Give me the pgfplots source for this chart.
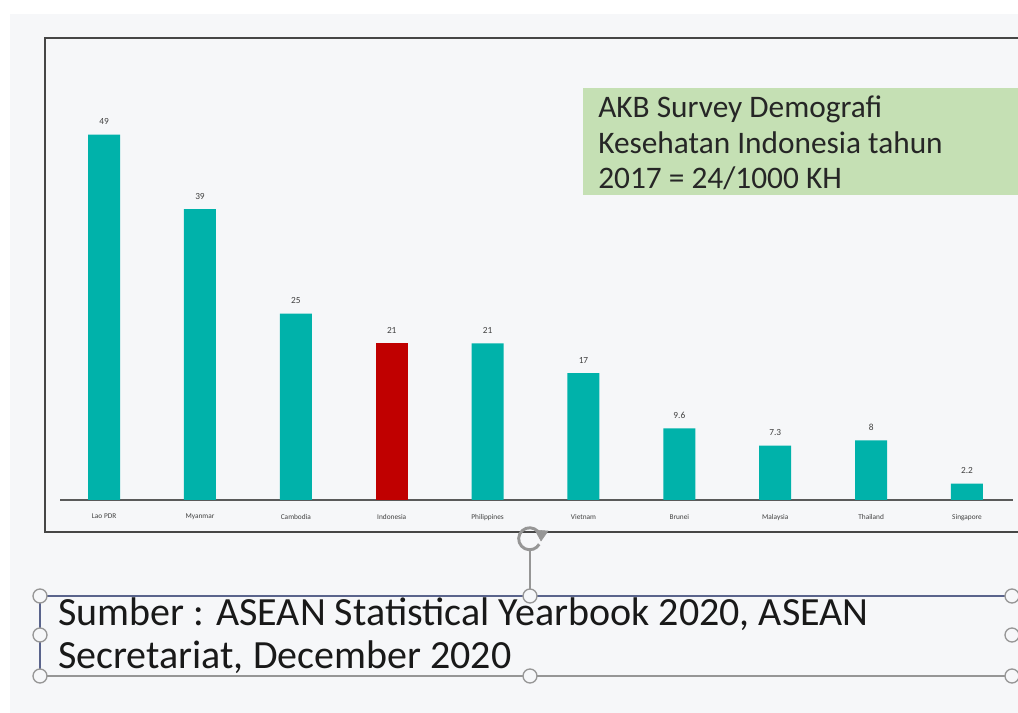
\documentclass[border=0pt]{standalone}
\usepackage{pgfplots}
\pgfplotsset{compat=1.18}
\usepackage{fontspec}
\setmainfont{Carlito}
\definecolor{bggray}{RGB}{246,247,249}
\definecolor{teal1}{RGB}{0,178,170}
\definecolor{red1}{RGB}{192,0,0}
\definecolor{green1}{RGB}{197,224,180}
\definecolor{frame1}{RGB}{70,70,70}
\definecolor{axis1}{RGB}{90,90,90}
\definecolor{txt1}{RGB}{64,64,64}
\definecolor{handle1}{RGB}{150,150,150}
\definecolor{boxblue}{RGB}{90,100,140}
\begin{document}
\begin{tikzpicture}[x=0.75pt,y=0.75pt]
\path[use as bounding box] (0,0) rectangle (1018,713);
\fill[white] (0,0) rectangle (1018,713);
\fill[bggray] (10,0) rectangle (1018,699);
% chart frame
\draw[frame1,line width=1.1pt] (1030,675) -- (45,675) -- (45,181) -- (1030,181);
\begin{axis}[
  at={(45pt,159.75pt)}, anchor=south west,
  scale only axis, width=714.75pt, height=330pt,
  xmin=-0.46, xmax=9.48, ymin=0, ymax=59,
  axis x line=bottom, axis y line=none,
  x axis line style={-, draw=axis1, line width=1.1pt},
  xtick={0,...,9},
  xticklabels={Lao PDR,Myanmar,Cambodia,Indonesia,Philippines,Vietnam,Brunei,Malaysia,Thailand,Singapore},
  major tick length=0pt,
  xticklabel style={font=\fontsize{5.5}{6}\selectfont, text=txt1, yshift=-7pt},
  ytick=\empty,
  ybar, bar width=24pt,
  nodes near coords,
  /pgf/number format/assume math mode=true,
  every node near coord/.append style={font=\fontsize{7}{7}\selectfont, text=txt1, yshift=4pt},
  clip=false,
]
\addplot[fill=teal1, draw=none, bar shift=0pt] coordinates {(0,49) (1,39) (2,25) (4,21) (5,17) (6,9.6) (7,7.3) (8,8) (9,2.2)};
\addplot[fill=red1, draw=none, bar shift=0pt] coordinates {(3,21)};
\end{axis}
% green annotation box
\fill[green1] (583,518) rectangle (1018,625);
\node[anchor=north west, align=left, inner sep=0pt, font=\fontsize{23.5}{26.5}\selectfont, text=black!85] at (598,617)
  {AKB Survey Demografi\\Kesehatan Indonesia tahun\\2017 = 24/1000 KH};
% bottom text box
\draw[handle1, line width=0.8pt] (40,37) -- (1012,37);
\draw[boxblue, line width=1pt] (40,117) -- (1012,117);
\draw[boxblue, line width=0.8pt] (40,117) -- (40,37);
\draw[handle1, line width=0.8pt] (530,117) -- (530,165);
\node[anchor=north west, align=left, inner sep=0pt, font=\fontsize{30}{32.5}\selectfont, text=black!90] at (58,116)
  {Sumber : ASEAN Statistical Yearbook 2020, ASEAN\\Secretariat, December 2020};
\foreach \p in {(40,117),(530,117),(1012,117),(40,78),(1012,78),(40,37),(530,37),(1012,37)}
  \draw[handle1, fill=bggray, line width=1pt] \p circle (7);
% rotation handle
\draw[handle1, line width=2.2pt] (540,178) arc (20:330:11);
\draw[handle1, fill=handle1] (541,172) -- (548,182) -- (535,183) -- cycle;
\end{tikzpicture}
\end{document}
